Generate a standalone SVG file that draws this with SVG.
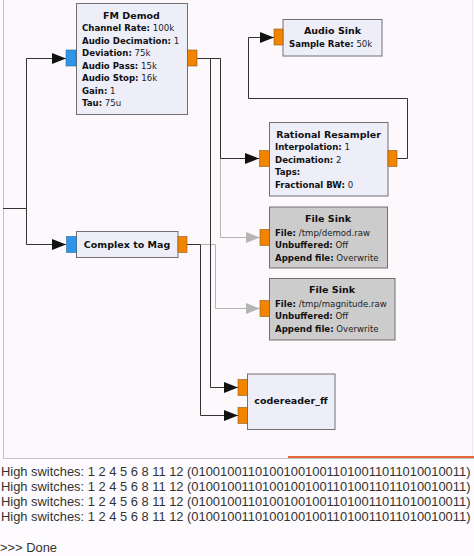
<svg xmlns="http://www.w3.org/2000/svg" width="474" height="556" viewBox="0 0 474 556">
<style>
.blk{fill:#eeeef9;stroke:#707070;stroke-width:1}
.dis{fill:#cccccc;stroke:#707070;stroke-width:1}
.po{fill:#f28400;stroke:#8a5a20;stroke-width:0.6}
.pb{fill:#2f95e6;stroke:#2a6aa0;stroke-width:0.6}
.t{font-family:"DejaVu Sans",sans-serif;font-size:9.5px;font-weight:bold;fill:#111;text-anchor:middle}
.p{font-family:"DejaVu Sans",sans-serif;font-size:8.6px;fill:#222}
.k{font-weight:bold;fill:#111}
.c{fill:none;stroke:#333;stroke-width:1}
.g{fill:none;stroke:#b4b4b4;stroke-width:1}
.con{font-family:"Liberation Sans",Arial,sans-serif;font-size:12.9px;fill:#333}
</style>
<defs>
<marker id="ab" viewBox="0 0 14 11" refX="14" refY="5.5" markerWidth="14" markerHeight="11" markerUnits="userSpaceOnUse" orient="auto"><path d="M0,0 L14,5.5 L0,11 z" fill="#111"/></marker>
<marker id="ag" viewBox="0 0 14 11" refX="14" refY="5.5" markerWidth="14" markerHeight="11" markerUnits="userSpaceOnUse" orient="auto"><path d="M0,0 L14,5.5 L0,11 z" fill="#b4b4b4"/></marker>
</defs>
<rect x="0" y="0" width="474" height="556" fill="#fdfbfd"/>
<rect x="3" y="0" width="469" height="458" fill="#fcf8fc"/>
<line x1="3.5" y1="0" x2="3.5" y2="458" stroke="#c4c4c4"/>
<line x1="472.5" y1="0" x2="472.5" y2="458" stroke="#ece8ec"/>
<line x1="3" y1="458.5" x2="474" y2="458.5" stroke="#c4c4c4"/>
<line x1="288" y1="457" x2="474" y2="457" stroke="#e8683a" stroke-width="2"/>

<g id="connectors">
<path class="c" d="M3,208.5 H26.5 V58.5 H66" marker-end="url(#ab)"/>
<path class="c" d="M3,208.5 H26.5 V244.5 H66" marker-end="url(#ab)"/>
<path class="g" d="M197,58.5 H220.5 V237.5 H260" marker-end="url(#ag)"/>
<path class="g" d="M187,244.5 H215.5 V308.5 H260" marker-end="url(#ag)"/>
<path class="c" d="M197,58.5 H220.5 V158.5 H259" marker-end="url(#ab)"/>
<path class="c" d="M197,58.5 H210.5 V387.5 H238" marker-end="url(#ab)"/>
<path class="c" d="M397,158.5 H407.5 V98.5 H248.5 V37.5 H274" marker-end="url(#ab)"/>
<path class="c" d="M187,244.5 H200.5 V415.5 H238" marker-end="url(#ab)"/>
</g>

<g id="fm_demod">
<rect class="blk" x="76.5" y="3.5" width="111" height="111"/>
<rect class="pb" x="66" y="50" width="10" height="16"/>
<rect class="po" x="187.5" y="50" width="9.5" height="16"/>
<text class="t" x="131.5" y="18.5">FM Demod</text>
<text class="p" x="82" y="31"><tspan class="k">Channel Rate:</tspan> 100k</text>
<text class="p" x="82" y="43.5"><tspan class="k">Audio Decimation:</tspan> 1</text>
<text class="p" x="82" y="56"><tspan class="k">Deviation:</tspan> 75k</text>
<text class="p" x="82" y="68.5"><tspan class="k">Audio Pass:</tspan> 15k</text>
<text class="p" x="82" y="81"><tspan class="k">Audio Stop:</tspan> 16k</text>
<text class="p" x="82" y="93.5"><tspan class="k">Gain:</tspan> 1</text>
<text class="p" x="82" y="106"><tspan class="k">Tau:</tspan> 75u</text>
</g>

<g id="audio_sink">
<rect class="blk" x="283" y="19.5" width="99" height="36.5"/>
<rect class="po" x="274" y="29" width="9" height="16"/>
<text class="t" x="332.5" y="34">Audio Sink</text>
<text class="p" x="289" y="47"><tspan class="k">Sample Rate:</tspan> 50k</text>
</g>

<g id="rational_resampler">
<rect class="blk" x="269.5" y="122.5" width="118.5" height="73.5"/>
<rect class="po" x="259.5" y="150.5" width="10" height="16"/>
<rect class="po" x="388" y="150.5" width="9" height="16"/>
<text class="t" x="328.5" y="137.5">Rational Resampler</text>
<text class="p" x="275" y="150"><tspan class="k">Interpolation:</tspan> 1</text>
<text class="p" x="275" y="162.5"><tspan class="k">Decimation:</tspan> 2</text>
<text class="p" x="275" y="175"><tspan class="k">Taps:</tspan></text>
<text class="p" x="275" y="187.5"><tspan class="k">Fractional BW:</tspan> 0</text>
</g>

<g id="complex_to_mag">
<rect class="blk" x="76.5" y="231.5" width="101.5" height="26"/>
<rect class="pb" x="66.5" y="236.5" width="10" height="16"/>
<rect class="po" x="178" y="236.5" width="9" height="16"/>
<text class="t" x="127" y="247.5">Complex to Mag</text>
</g>

<g id="file_sink_demod">
<rect class="dis" x="269.5" y="207" width="118" height="61"/>
<rect class="po" x="260" y="229.5" width="9.5" height="16"/>
<text class="t" x="328" y="222">File Sink</text>
<text class="p" x="275" y="235.5"><tspan class="k">File:</tspan> /tmp/demod.raw</text>
<text class="p" x="275" y="248"><tspan class="k">Unbuffered:</tspan> Off</text>
<text class="p" x="275" y="260.5"><tspan class="k">Append file:</tspan> Overwrite</text>
</g>

<g id="file_sink_mag">
<rect class="dis" x="269.5" y="278.5" width="125.5" height="61.5"/>
<rect class="po" x="260" y="300.5" width="9.5" height="16"/>
<text class="t" x="332" y="292.5">File Sink</text>
<text class="p" x="275" y="306.5"><tspan class="k">File:</tspan> /tmp/magnitude.raw</text>
<text class="p" x="275" y="319"><tspan class="k">Unbuffered:</tspan> Off</text>
<text class="p" x="275" y="331.5"><tspan class="k">Append file:</tspan> Overwrite</text>
</g>

<g id="codereader_ff">
<rect class="blk" x="247.5" y="374" width="87.5" height="55.5"/>
<rect class="po" x="238" y="379.5" width="9.5" height="16"/>
<rect class="po" x="238" y="407.5" width="9.5" height="16"/>
<text class="t" x="291" y="404">codereader_ff</text>
</g>

<g id="console">
<text class="con" x="1" y="475.5">High switches: 1 2 4 5 6 8 11 12 (010010011010010010011010011011010010011)</text>
<text class="con" x="1" y="490.5">High switches: 1 2 4 5 6 8 11 12 (010010011010010010011010011011010010011)</text>
<text class="con" x="1" y="505.5">High switches: 1 2 4 5 6 8 11 12 (010010011010010010011010011011010010011)</text>
<text class="con" x="1" y="521">High switches: 1 2 4 5 6 8 11 12 (010010011010010010011010011011010010011)</text>
<text class="con" x="0" y="552">&gt;&gt;&gt; Done</text>
</g>
</svg>
